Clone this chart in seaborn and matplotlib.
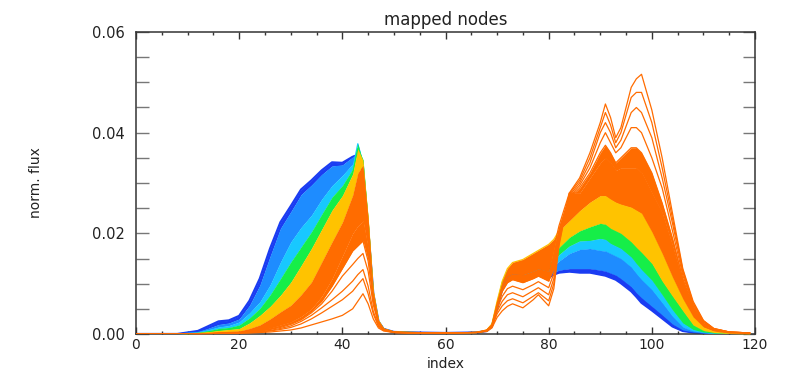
import numpy as np
import pandas as pd
import matplotlib
matplotlib.use("Agg")
import matplotlib.pyplot as plt
import seaborn as sns
from matplotlib.ticker import MultipleLocator, FormatStrFormatter

# ---------------- data ----------------
index = [0, 8, 12, 16, 18,
         20, 22, 24, 26, 28, 30, 32, 34, 36, 38,
         40, 42, 43, 44, 45, 46, 47, 48, 50, 53,
         60, 66, 68, 69, 70, 71, 72, 73, 75, 77, 78, 80,
         81, 82, 84, 86, 88, 90, 91, 92, 93, 94, 96, 97, 98,
         100, 102, 104, 106, 108, 110, 112, 115, 119]

# dark-blue extreme profile
db_top = ([0, 0, 0.0006, 0.0025, 0.0027]
          + [0.0036, 0.0066, 0.011, 0.017, 0.0222, 0.0254, 0.0287, 0.0305, 0.0325, 0.0341]
          + [0.034, 0.0352, 0.0355, 0.032, 0.021, 0.008, 0.0025, 0.001, 0.0004, 0.0003]
          + [0.0002, 0.0003, 0.0006, 0.0015, 0.005, 0.009, 0.011, 0.0115, 0.011, 0.0115, 0.0118, 0.0112]
          + [0.0118, 0.0122, 0.0124, 0.0122, 0.0122, 0.0118, 0.0116, 0.0112, 0.0108, 0.0101, 0.0085, 0.0074, 0.0062]
          + [0.0047, 0.0031, 0.0015, 0.0006, 0.0003, 0.0002, 0.0001, 0.0001, 0.0])
# inner edge of the dark-blue group
db_in = ([0, 0, 0.0004, 0.0019, 0.0022]
         + [0.003, 0.0057, 0.0097, 0.0155, 0.021, 0.0243, 0.0277, 0.0296, 0.0317, 0.0334]
         + [0.0336, 0.0352, 0.0358, 0.0325, 0.021, 0.0078, 0.0024, 0.001, 0.0004, 0.0003]
         + [0.0002, 0.0003, 0.0006, 0.0015, 0.0052, 0.0093, 0.0113, 0.0118, 0.0113, 0.0118, 0.0121, 0.0115]
         + [0.0122, 0.0127, 0.013, 0.013, 0.013, 0.0127, 0.0125, 0.0121, 0.0117, 0.011, 0.0094, 0.0082, 0.0072]
         + [0.0055, 0.0038, 0.002, 0.0008, 0.0004, 0.0002, 0.0001, 0.0001, 0.0])
# last medium-blue profile
mb_end = ([0, 0, 0.0003, 0.0014, 0.0017]
          + [0.0024, 0.0042, 0.0064, 0.0098, 0.0143, 0.0183, 0.0212, 0.0236, 0.0268, 0.0295]
          + [0.0315, 0.0338, 0.0362, 0.0335, 0.0215, 0.0078, 0.0024, 0.001, 0.0004, 0.0003]
          + [0.0002, 0.0003, 0.0006, 0.0016, 0.0055, 0.0096, 0.0117, 0.0122, 0.0118, 0.0123, 0.0127, 0.0122]
          + [0.0135, 0.0145, 0.016, 0.0168, 0.017, 0.0166, 0.0165, 0.016, 0.0155, 0.015, 0.0133, 0.012, 0.0108]
          + [0.0088, 0.0062, 0.0035, 0.0014, 0.0006, 0.0003, 0.0001, 0.0001, 0.0])
# last cyan profile
cy_end = ([0, 0, 0.0002, 0.0011, 0.0013]
          + [0.0018, 0.0032, 0.0051, 0.0078, 0.011, 0.0143, 0.0173, 0.0203, 0.0238, 0.0272]
          + [0.0295, 0.0328, 0.0378, 0.034, 0.022, 0.008, 0.0025, 0.001, 0.0004, 0.0003]
          + [0.0002, 0.0003, 0.0006, 0.0017, 0.0058, 0.0099, 0.012, 0.0126, 0.0123, 0.0128, 0.0132, 0.0128]
          + [0.0145, 0.0158, 0.0175, 0.0185, 0.0186, 0.019, 0.0188, 0.018, 0.0175, 0.017, 0.0153, 0.014, 0.0128]
          + [0.0107, 0.0078, 0.0048, 0.0022, 0.0009, 0.0004, 0.0002, 0.0001, 0.0])
# last green profile
gr_end = ([0, 0, 0.0001, 0.0007, 0.0009]
          + [0.0011, 0.0022, 0.0037, 0.0055, 0.0077, 0.0103, 0.0136, 0.017, 0.0208, 0.0246]
          + [0.0275, 0.0318, 0.0368, 0.0345, 0.0225, 0.0082, 0.0026, 0.001, 0.0004, 0.0003]
          + [0.0002, 0.0003, 0.0007, 0.0018, 0.006, 0.0102, 0.0125, 0.013, 0.0128, 0.0135, 0.014, 0.0135]
          + [0.0158, 0.0172, 0.0192, 0.0205, 0.0213, 0.022, 0.0218, 0.021, 0.0205, 0.02, 0.0183, 0.0172, 0.0162]
          + [0.014, 0.0105, 0.0075, 0.0046, 0.0018, 0.0007, 0.0003, 0.0001, 0.0])
# last yellow profile
ye_end = ([0, 0, 0.0001, 0.0004, 0.0005]
          + [0.0006, 0.0011, 0.0018, 0.003, 0.0044, 0.0057, 0.0078, 0.0103, 0.0143, 0.0183]
          + [0.0222, 0.0276, 0.032, 0.0335, 0.023, 0.0085, 0.0027, 0.001, 0.0004, 0.0003]
          + [0.0002, 0.0003, 0.0008, 0.002, 0.0065, 0.0105, 0.013, 0.0142, 0.0148, 0.016, 0.0166, 0.0178]
          + [0.0188, 0.0205, 0.0225, 0.0245, 0.0262, 0.0275, 0.0275, 0.0268, 0.0262, 0.0258, 0.0252, 0.0246, 0.024]
          + [0.0203, 0.016, 0.0113, 0.007, 0.0034, 0.0014, 0.0006, 0.0002, 0.0001])
# edge of the dense orange group
od_end = ([0, 0, 0.0, 0.0002, 0.0003]
          + [0.0003, 0.0005, 0.0008, 0.0012, 0.0018, 0.0024, 0.0035, 0.005, 0.0075, 0.011]
          + [0.0155, 0.02, 0.0215, 0.0225, 0.017, 0.0075, 0.0025, 0.001, 0.0004, 0.0003]
          + [0.0002, 0.0003, 0.0008, 0.0018, 0.006, 0.0095, 0.0115, 0.012, 0.0118, 0.0125, 0.013, 0.0125]
          + [0.017, 0.0215, 0.028, 0.028, 0.031, 0.034, 0.035, 0.034, 0.0325, 0.033, 0.033, 0.033, 0.032]
          + [0.028, 0.024, 0.0175, 0.0105, 0.005, 0.002, 0.0008, 0.0003, 0.0002])
# sparse orange profiles, most extreme last
o1 = ([0, 0, 0, 0.0001, 0.0001]
      + [0.0003, 0.0004, 0.0007, 0.001, 0.0015, 0.0021, 0.003, 0.0045, 0.0065, 0.0095]
      + [0.013, 0.0165, 0.0175, 0.0185, 0.0145, 0.0065, 0.0022, 0.001, 0.0004, 0.0003]
      + [0.0002, 0.0003, 0.0007, 0.0017, 0.0055, 0.0085, 0.0102, 0.0108, 0.0102, 0.011, 0.0115, 0.0105]
      + [0.013, 0.0195, 0.027, 0.029, 0.032, 0.036, 0.0375, 0.036, 0.034, 0.035, 0.037, 0.037, 0.036]
      + [0.032, 0.026, 0.019, 0.011, 0.0053, 0.0021, 0.0009, 0.0003, 0.0002])
o2 = ([0, 0, 0, 0.0001, 0.0001]
      + [0.0002, 0.0004, 0.0006, 0.0009, 0.0013, 0.0019, 0.0028, 0.0042, 0.006, 0.0085]
      + [0.0115, 0.0138, 0.015, 0.016, 0.0125, 0.0058, 0.002, 0.0009, 0.0004, 0.0002]
      + [0.0002, 0.0003, 0.0007, 0.0016, 0.005, 0.0075, 0.009, 0.0095, 0.0088, 0.0098, 0.0104, 0.0092]
      + [0.012, 0.019, 0.0272, 0.0295, 0.033, 0.038, 0.040, 0.038, 0.036, 0.037, 0.041, 0.041, 0.040]
      + [0.035, 0.029, 0.0205, 0.0117, 0.0056, 0.0023, 0.001, 0.0004, 0.0002])
o3 = ([0, 0, 0, 0.0001, 0.0001]
      + [0.0002, 0.0003, 0.0005, 0.0007, 0.0011, 0.0016, 0.0025, 0.0037, 0.0052, 0.0068]
      + [0.0085, 0.0105, 0.0118, 0.0128, 0.0095, 0.0045, 0.0017, 0.0008, 0.0003, 0.0002]
      + [0.0002, 0.0003, 0.0006, 0.0015, 0.0045, 0.0065, 0.0078, 0.0082, 0.0074, 0.0086, 0.0092, 0.0078]
      + [0.011, 0.0185, 0.0275, 0.030, 0.034, 0.040, 0.042, 0.040, 0.037, 0.0385, 0.044, 0.045, 0.044]
      + [0.039, 0.031, 0.022, 0.0123, 0.0059, 0.0025, 0.001, 0.0004, 0.0002])
o4 = ([0, 0, 0, 0.0001, 0.0001]
      + [0.0002, 0.0003, 0.0004, 0.0006, 0.0009, 0.0013, 0.002, 0.003, 0.0042, 0.0055]
      + [0.0068, 0.0085, 0.0098, 0.011, 0.008, 0.004, 0.0015, 0.0007, 0.0003, 0.0002]
      + [0.0002, 0.0003, 0.0006, 0.0014, 0.004, 0.0056, 0.0066, 0.007, 0.0062, 0.0075, 0.0082, 0.0066]
      + [0.010, 0.018, 0.0278, 0.0305, 0.035, 0.041, 0.044, 0.0415, 0.038, 0.040, 0.047, 0.048, 0.048]
      + [0.042, 0.033, 0.023, 0.0127, 0.0062, 0.0026, 0.0011, 0.0004, 0.0002])
o5 = ([0, 0, 0, 0.0001, 0.0001]
      + [0.0002, 0.0002, 0.0003, 0.0004, 0.0006, 0.0008, 0.0012, 0.0018, 0.0024, 0.003]
      + [0.0037, 0.005, 0.0065, 0.008, 0.006, 0.003, 0.0012, 0.0006, 0.0003, 0.0002]
      + [0.0002, 0.0003, 0.0005, 0.0012, 0.0033, 0.0046, 0.0055, 0.006, 0.0052, 0.0068, 0.0078, 0.0056]
      + [0.009, 0.0175, 0.028, 0.031, 0.036, 0.042, 0.0457, 0.043, 0.039, 0.041, 0.049, 0.0507, 0.0516]
      + [0.0445, 0.035, 0.024, 0.013, 0.0065, 0.0027, 0.0011, 0.0004, 0.0002])

x_ticks = [0, 20, 40, 60, 80, 100, 120]
y_ticks = [0.00, 0.02, 0.04, 0.06]
title = "mapped nodes"
x_label = "index"
y_label = "norm. flux"

# ---------------- styling ----------------
DB = "#1a3cf2"
MB = "#1e8cff"
CY = "#18c8ff"
GR = "#16ee48"
YE = "#ffc300"
OR = "#ff6c00"

profiles = {
    "db_top": db_top, "db_in": db_in, "mb_end": mb_end, "cy_end": cy_end,
    "gr_end": gr_end, "ye_end": ye_end, "od_end": od_end,
    "o1": o1, "o2": o2, "o3": o3, "o4": o4, "o5": o5,
}
line_color = {"db_top": DB, "db_in": DB, "mb_end": MB, "cy_end": CY,
              "gr_end": GR, "ye_end": YE, "od_end": OR,
              "o1": OR, "o2": OR, "o3": OR, "o4": OR, "o5": OR}
line_width = {"db_top": 1.6}
band_fill = {"db_in": DB, "mb_end": MB, "cy_end": CY, "gr_end": GR,
             "ye_end": YE, "od_end": OR, "o1": OR}

df = pd.DataFrame([
    {"index": i, "flux": v, "profile": name}
    for name, vals in profiles.items() for i, v in zip(index, vals)
])

sns.set_theme(style="white")
plt.rcParams["font.family"] = ["DejaVu Sans"]

fig = plt.figure(figsize=(8.07, 3.71), dpi=100)
ax_top, ax_bot = 32.0, 334.0
ax = fig.add_axes([136 / 807, 1 - ax_bot / 371, (755 - 136) / 807, (ax_bot - ax_top) / 371])

names = list(profiles.keys())
prev = None
for k, name in enumerate(names):
    z = 2 + k
    if name in band_fill and prev is not None:
        ax.fill_between(index, profiles[prev], profiles[name],
                        color=band_fill[name], lw=0, zorder=z)
    sns.lineplot(data=df[df["profile"] == name], x="index", y="flux",
                 color=line_color[name], lw=line_width.get(name, 0.9),
                 estimator=None, sort=False, legend=False, ax=ax, zorder=z + 0.5)
    prev = name

ax.set_xlim(0, 120)
ax.set_ylim(0, 0.06)
ax.set_xticks(x_ticks)
ax.set_yticks(y_ticks)
ax.xaxis.set_minor_locator(MultipleLocator(5))
ax.yaxis.set_minor_locator(MultipleLocator(0.005))
ax.yaxis.set_major_formatter(FormatStrFormatter("%.2f"))

tc = "#333333"
ax.tick_params(axis="x", which="major", direction="in", length=5, width=1,
               top=True, bottom=True, color=tc, labelcolor="#222222",
               labelsize=10, pad=3)
ax.tick_params(axis="x", which="minor", direction="in", length=2.5, width=1,
               top=True, bottom=True, color=tc)
ax.tick_params(axis="y", which="both", direction="in", length=9, width=1,
               left=True, right=True, color="#777777", labelcolor="#222222",
               labelsize=10.5, pad=8)
for s in ax.spines.values():
    s.set_color(tc)
    s.set_linewidth(1.1)
    s.set_visible(True)

ax.set_title(title, fontsize=12, color="#222222", pad=5)
ax.set_xlabel(x_label, fontsize=10, color="#222222", va="bottom")
ax.xaxis.set_label_coords(0.5, (ax_bot - 370.5) / (ax_bot - ax_top))
ax.set_ylabel(y_label, fontsize=10, color="#222222")
ax.yaxis.set_label_coords(-0.15, 0.5)
ax.grid(False)

fig.savefig("out.png", dpi=100)
